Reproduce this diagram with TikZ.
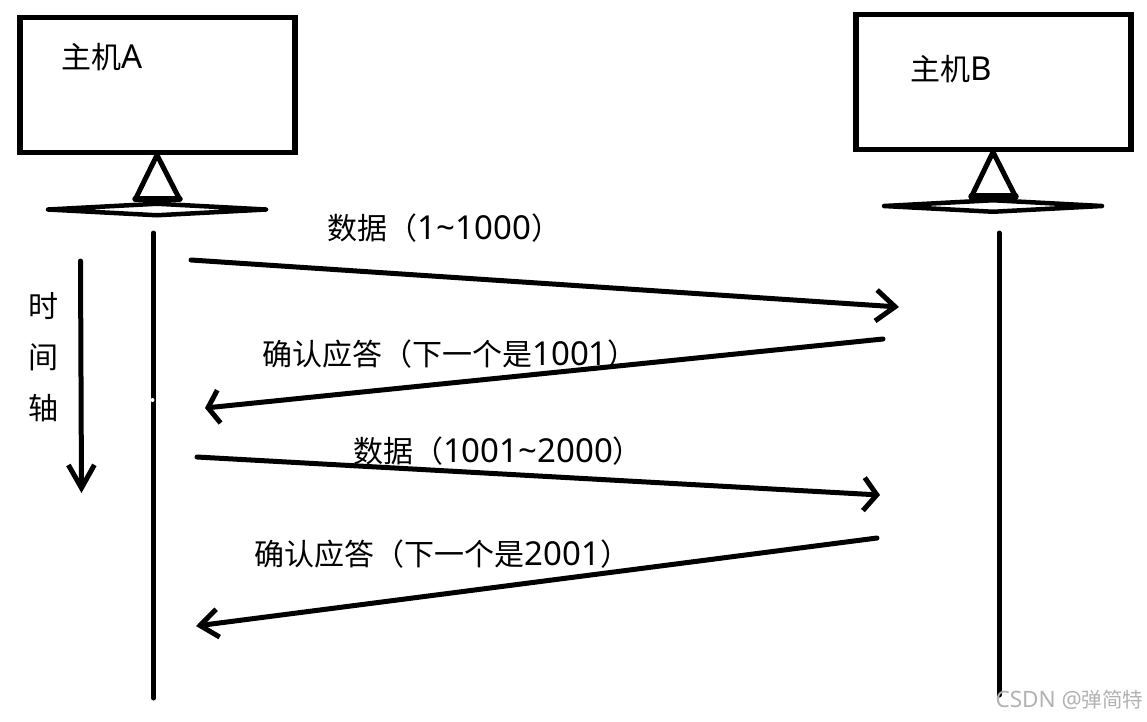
\documentclass[tikz,border=0pt]{standalone}
\usepackage{fontspec}
\setmainfont{Noto Sans CJK SC}
\newfontfamily\latinfont[Scale=1.1]{Noto Sans}
\newcommand{\lat}[1]{{\latinfont #1}}
\usetikzlibrary{arrows.meta}

\tikzset{
    hostbox/.style={draw, line width=5.5pt, minimum width=275pt, minimum height=135pt, inner sep=0pt},
    wire/.style={line width=5pt, line cap=round, line join=round},
    dish/.style={line width=4.5pt, line cap=round, line join=round},
    msg/.style 2 args={wire, -{Straight Barb[length=#1pt, width=#2pt, line width=5pt]}},
    txt/.style={inner sep=0pt, font=\fontsize{30}{30}\selectfont}
}

\begin{document}
\begin{tikzpicture}[x=1pt, y=-1pt]
    \useasboundingbox (0,0) rectangle (1147,721);

    % host A
    \node[hostbox] (boxA) at (157.5,85) {};
    \node[txt] (nameA) at (102.5,57) {主机\lat{A}};
    \coordinate (apexA) at (157,155);
    \coordinate (baseAl) at (135.5,199);
    \coordinate (baseAr) at (179.5,199);
    \draw[wire] (apexA) -- (baseAl);
    \draw[wire] (apexA) -- (baseAr);
    \draw[wire, line width=6.5pt] (baseAl) -- (baseAr);
    \coordinate (wlA) at (48,209.5);
    \coordinate (wtA) at (157,203.75);
    \coordinate (wrA) at (266,209.5);
    \coordinate (wbA) at (157,215.25);
    \draw[dish] (wlA) -- (wtA) -- (wrA) -- (wbA) -- cycle;

    % host B
    \node[hostbox] (boxB) at (993.5,82) {};
    \node[txt] (nameB) at (951.5,69) {主机\lat{B}};
    \coordinate (apexB) at (993,152);
    \coordinate (baseBl) at (971.5,196.5);
    \coordinate (baseBr) at (1015.5,196.5);
    \draw[wire] (apexB) -- (baseBl);
    \draw[wire] (apexB) -- (baseBr);
    \draw[wire, line width=6.5pt] (baseBl) -- (baseBr);
    \coordinate (wlB) at (884,206);
    \coordinate (wtB) at (993,200.25);
    \coordinate (wrB) at (1102,206);
    \coordinate (wbB) at (993,211.75);
    \draw[dish] (wlB) -- (wtB) -- (wrB) -- (wbB) -- cycle;

    % life lines
    \coordinate (lineAs) at (153.5,233);
    \coordinate (lineAe) at (153.5,698);
    \coordinate (lineBs) at (999,233);
    \coordinate (lineBe) at (999,695);
    \coordinate (notchA) at (152.5,400);
    \draw[wire] (lineAs) -- (lineAe);
    \draw[wire] (lineBs) -- (lineBe);
    \fill[white] (notchA) circle (2pt);

    % time axis
    \coordinate (timeS) at (80.5,261);
    \coordinate (timeE) at (81.5,493);
    \draw[msg={23}{26}] (timeS) -- (timeE);
    \node[txt, align=center] (timeT) at (43,357) {时\\[21pt]间\\[21pt]轴};

    % messages
    \coordinate (m1s) at (191,260);
    \coordinate (m1e) at (899,307);
    \coordinate (m2s) at (883,339);
    \coordinate (m2e) at (205,408);
    \coordinate (m3s) at (197,457);
    \coordinate (m3e) at (880,495);
    \coordinate (m4s) at (877,538);
    \coordinate (m4e) at (196,626);
    \draw[msg={19}{31}] (m1s) -- (m1e);
    \draw[msg={11}{33}] (m2s) -- (m2e);
    \draw[msg={13}{33}] (m3s) -- (m3e);
    \draw[msg={18}{28}] (m4s) -- (m4e);

    \node[txt] (m1t) at (444.5,228) {数据（\lat{1\textasciitilde 1000}）};
    \node[txt] (m2t) at (450,354) {确认应答（下一个是\lat{1001}）};
    \node[txt] (m3t) at (498,451) {数据（\lat{1001\textasciitilde 2000}）};
    \node[txt] (m4t) at (442.5,554) {确认应答（下一个是\lat{2001}）};

    % watermark
    \node[inner sep=0pt, text=black!30, font=\fontsize{20.5}{21}\selectfont] (wm) at (1069.5,700) {\lat{CSDN @}弹简特};
\end{tikzpicture}
\end{document}
